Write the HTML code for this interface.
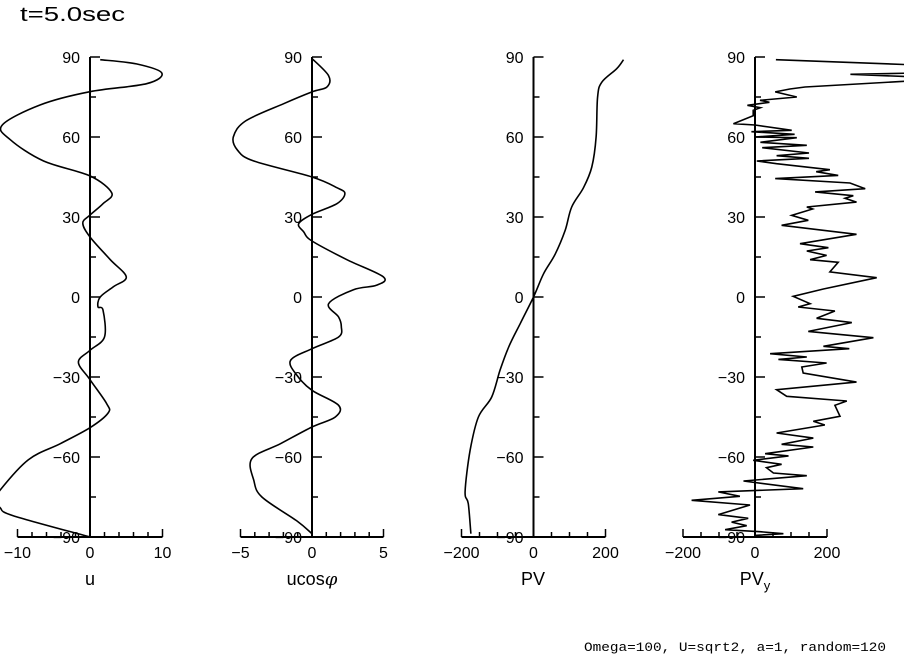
<!DOCTYPE html>
<html><head><meta charset="utf-8"><style>
body{margin:0;background:#fff;width:904px;height:654px;overflow:hidden}
svg{display:block;font-family:"Liberation Sans",sans-serif}
</style></head><body>
<svg id="c" width="904" height="654">
<text x="20" y="21" font-size="20" textLength="105" lengthAdjust="spacingAndGlyphs">t=5.0sec</text>
<text x="584" y="651" font-size="13" textLength="302" lengthAdjust="spacingAndGlyphs" font-family="Liberation Mono,monospace">Omega=100, U=sqrt2, a=1, random=120</text>
</svg>
<script>
const latTicks=[90,60,30,0,-30,-60,-90];
const uLat=[89,87.4,84,80,77,72,64.5,59,51,45.4,39,35,30.7,27.7,22.5,14,7.5,3.8,0,-3.7,-4.9,-15,-20,-24.4,-31,-40,-43.5,-49,-55,-61,-72.4,-76,-79,-82,-90];
const uVal=[1.4,6.4,9.9,7.8,0,-6.9,-12.1,-11,-6.4,0,3,1.8,0,-1,0,2.8,5,3.2,1.4,1.1,1.8,2,0,-1.6,0,2.3,2.5,0,-4.1,-8.5,-12.4,-13,-12.4,-10.6,0];
const ucLat=[89.4,83,78.8,76.9,72.5,66,60,55,51,45,41,38.8,35,31,27.5,24.4,21,14,7.5,4.4,2.75,-2.5,-7.5,-11,-15,-19.4,-23.75,-29.4,-35,-40.6,-45,-48.75,-55,-60.6,-68.75,-75,-84,-88.75];
const ucVal=[0,1.16,1.05,0,-1.98,-4.65,-5.5,-5.2,-4.07,0,1.74,2.3,1.74,0,-0.93,-0.58,0,2.44,5,4.5,2.9,1.16,1.86,2.05,1.86,0,-1.5,-1.05,0,1.86,1.63,0,-2.2,-4.2,-4.07,-3.5,-1.05,0];
const pvLat=[89,85.6,80.6,75,60,48.75,41,33.75,25,16,8.75,0,-10,-18.75,-27.5,-37.5,-45,-57.5,-73,-77.5,-88.75];
const pvVal=[250,231,190,178,174,162,139,106,88,60,28,0,-37,-69,-93,-116,-153,-176,-190,-181,-174];
const pvyLat=[89,87,84,83.5,82.5,81,78.75,78,76.9,75,73.75,73,71.9,71,70,68,65,64.5,62.5,62,61,60,59.75,58,56.9,56,54,53,52,51,50,47.75,47,45.6,44.4,42.75,40.6,39.4,38,37,35.6,33.75,33,30.6,28.75,26.9,23.5,20,18.5,17.25,15.6,14,13,9.4,7.25,3,0.25,-2.5,-3.75,-5.25,-8,-9.6,-12.9,-15.25,-18.5,-19.4,-21.25,-22.5,-23.4,-24.75,-26.25,-28.5,-31.9,-34.75,-37.25,-39,-40.6,-44.75,-46.6,-48,-51,-52.9,-55.25,-56.25,-58.75,-59.6,-61.25,-62.75,-64,-66,-67,-69,-71.9,-73.1,-74.75,-76.25,-78,-81.6,-83,-84.4,-85.75,-87.25,-88,-88.75,-89.4];
const pvyVal=[58,450,450,265,450,430,139,97,56,116,14,40,-21,15,-5,-5,-60,0,102,-10,110,0,116,15,144,20,150,60,150,5,60,208,170,231,56,264,306,167,273,250,282,144,160,102,148,74,282,125,204,144,199,153,231,208,338,190,106,153,120,222,171,269,148,329,190,262,42,144,65,199,130,134,282,60,88,255,222,236,162,194,60,162,74,162,28,93,-5,74,32,51,144,-32,134,-102,-42,-176,-14,-102,-19,-65,-23,-83,14,79,0];
const NS='http://www.w3.org/2000/svg';
const svg=document.getElementById('c');
const Y90=57,Y0=297;
function yS(l){return Y0-(l/90)*(Y0-Y90);}
function el(t,a,p){const e=document.createElementNS(NS,t);for(const k in a)e.setAttribute(k,a[k]);(p||svg).appendChild(e);return e;}
function smoothPath(pts){
  let d='M'+pts[0][0].toFixed(1)+' '+pts[0][1].toFixed(1);
  for(let i=0;i<pts.length-1;i++){
    const p0=pts[Math.max(0,i-1)],p1=pts[i],p2=pts[i+1],p3=pts[Math.min(pts.length-1,i+2)];
    const c1=[p1[0]+(p2[0]-p0[0])/6,p1[1]+(p2[1]-p0[1])/6];
    const c2=[p2[0]-(p3[0]-p1[0])/6,p2[1]-(p3[1]-p1[1])/6];
    d+=' C'+c1[0].toFixed(1)+' '+c1[1].toFixed(1)+' '+c2[0].toFixed(1)+' '+c2[1].toFixed(1)+' '+p2[0].toFixed(1)+' '+p2[1].toFixed(1);
  }
  return d;
}
function panel(name,ax,ppu,xmin,xmax,xTicks,minorStep,lat,val,titleHTML,titleX,smooth){
  const g=el('g',{});
  
  
  const xS=v=>ax+v*ppu;
  const yb=yS(-90);
  el('line',{x1:ax,y1:Y90,x2:ax,y2:yb,stroke:'#000','stroke-width':2},g);
  for(let l=-75;l<=90;l+=15){const maj=l%30===0;el('line',{x1:ax,y1:yS(l),x2:ax+(maj?10:6),y2:yS(l),stroke:'#000','stroke-width':1.5},g);}
  latTicks.forEach(l=>{const t=el('text',{x:ax-10,y:yS(l)+6,'font-size':16,'text-anchor':'end'},g);t.textContent=l<0?'\u2212'+(-l):String(l);});
  const xa=el('line',{x1:xS(xmin),y1:yb,x2:xS(xmax),y2:yb,stroke:'#000','stroke-width':2},g);
  
  for(let v=xmin;v<=xmax+1e-9;v+=minorStep){const maj=xTicks.some(t=>Math.abs(t-v)<1e-9);el('line',{x1:xS(v),y1:yb,x2:xS(v),y2:yb-(maj?8:5),stroke:'#000','stroke-width':1.5},g);}
  xTicks.forEach(v=>{const t=el('text',{x:xS(v),y:yb+21,'font-size':16,'text-anchor':'middle'},g);t.textContent=v<0?'\u2212'+(-v):String(v);});
  const pts=lat.map((l,i)=>[xS(val[i]),yS(l)]);
  const d=smooth?smoothPath(pts):pts.map((q,i)=>(i?'L':'M')+q[0].toFixed(1)+' '+q[1].toFixed(1)).join(' ');
  const p=el('path',{d:d,fill:'none',stroke:'#000','stroke-width':1.6},g);
  
  
  const t=el('text',{x:titleX,y:585,'font-size':18,'text-anchor':'middle'},g);
  t.innerHTML=titleHTML;
  
  
}
panel('u',90,7.25,-10,10,[-10,0,10],2,uLat,uVal,'u',90,true);
panel('ucos',312,14.3,-5,5,[-5,0,5],1,ucLat,ucVal,'ucos<tspan font-style="italic" font-family="DejaVu Serif,serif">φ</tspan>',312,true);
panel('pv',533.5,0.36,-200,200,[-200,0,200],50,pvLat,pvVal,'PV',533,true);
panel('pvy',755,0.36,-200,200,[-200,0,200],50,pvyLat,pvyVal,'PV<tspan font-size="13" dy="5">y</tspan>',755,false);
</script>
</body></html>
